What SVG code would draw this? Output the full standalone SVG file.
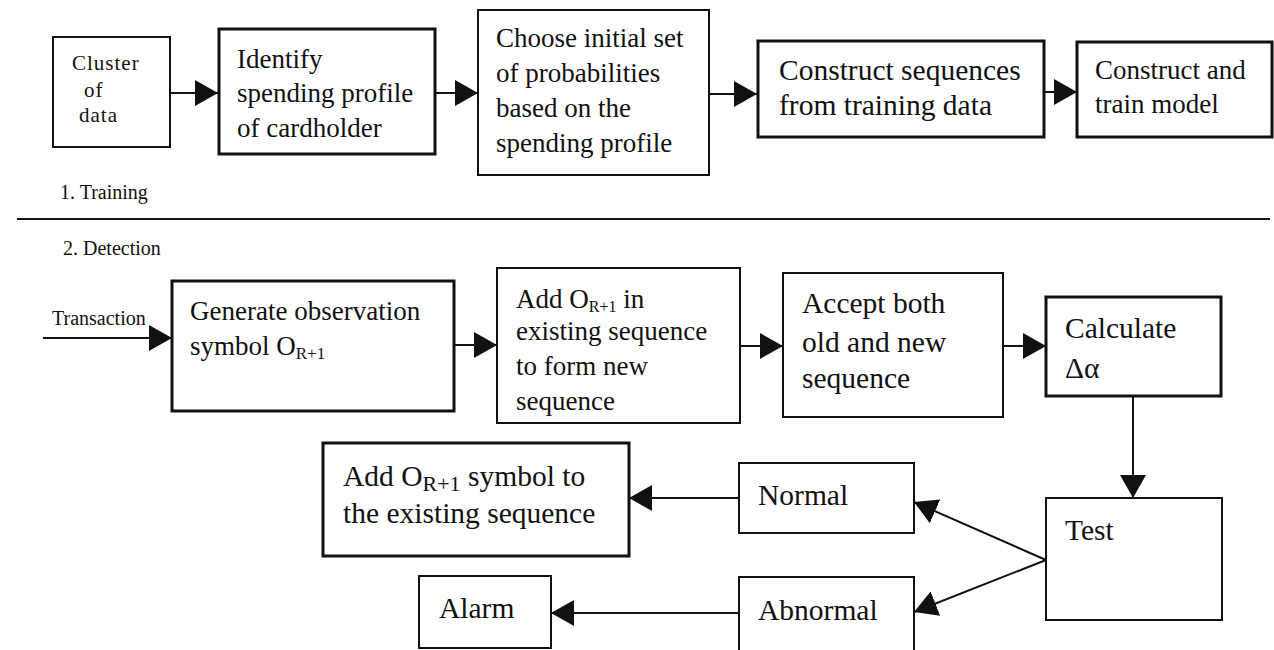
<svg xmlns="http://www.w3.org/2000/svg" width="1274" height="650" viewBox="0 0 1274 650">
<style>
text{font-family:"Liberation Serif","Times New Roman",serif;fill:#111}
.box{fill:#fff;stroke:#111;stroke-width:2}
.thick{stroke-width:3}
.c{stroke:#111;stroke-width:2;fill:none}
.f27{font-size:27px}
.f29{font-size:29.5px}
.f20{font-size:20px}
</style>
<defs>
<marker id="ah" markerUnits="userSpaceOnUse" markerWidth="24" markerHeight="26" viewBox="0 0 24 26" refX="23" refY="13" orient="auto">
<path d="M0,0 L23,13 L0,26 z" fill="#111"/>
</marker>
</defs>
<rect width="1274" height="650" fill="#fff"/>

<g id="connectors">
<line class="c" x1="171" y1="93" x2="218" y2="93" marker-end="url(#ah)"/>
<line class="c" x1="435" y1="93" x2="478" y2="93" marker-end="url(#ah)"/>
<line class="c" x1="709" y1="94" x2="757" y2="94" marker-end="url(#ah)"/>
<line class="c" x1="1044" y1="92" x2="1077" y2="92" marker-end="url(#ah)"/>
<line class="c" x1="43" y1="338" x2="172" y2="338" marker-end="url(#ah)"/>
<line class="c" x1="455" y1="345" x2="497" y2="345" marker-end="url(#ah)"/>
<line class="c" x1="740" y1="346" x2="783" y2="346" marker-end="url(#ah)"/>
<line class="c" x1="1003" y1="346" x2="1046" y2="346" marker-end="url(#ah)"/>
<line class="c" x1="1133" y1="396" x2="1133" y2="498" marker-end="url(#ah)"/>
<line class="c" x1="1046" y1="560" x2="914" y2="502" marker-end="url(#ah)"/>
<line class="c" x1="1046" y1="560" x2="914" y2="612" marker-end="url(#ah)"/>
<line class="c" x1="739" y1="498" x2="629" y2="498" marker-end="url(#ah)"/>
<line class="c" x1="739" y1="613" x2="551" y2="613" marker-end="url(#ah)"/>
</g>

<g id="separator">
<line x1="17" y1="219" x2="1270" y2="219" stroke="#111" stroke-width="2"/>
<text class="f20" x="60" y="199">1. Training</text>
<text class="f20" x="63" y="255">2. Detection</text>
<text class="f20" x="52" y="325">Transaction</text>
</g>

<g id="cluster">
<rect class="box" x="53" y="37" width="117" height="110"/>
<text style="font-size:21px;letter-spacing:1px" x="72" y="70">Cluster</text>
<text style="font-size:21px;letter-spacing:1px" x="84" y="97">of</text>
<text style="font-size:21px;letter-spacing:1px" x="79" y="122">data</text>
</g>

<g id="identify">
<rect class="box thick" x="219" y="29" width="216" height="125"/>
<text class="f27" x="237" y="68">Identify</text>
<text class="f27" x="237" y="102">spending profile</text>
<text class="f27" x="237" y="137">of cardholder</text>
</g>

<g id="choose">
<rect class="box" x="478" y="10" width="231" height="165"/>
<text class="f27" x="496" y="47">Choose initial set</text>
<text class="f27" x="496" y="82">of probabilities</text>
<text class="f27" x="496" y="117">based on the</text>
<text class="f27" x="496" y="152">spending profile</text>
</g>

<g id="construct-seq">
<rect class="box thick" x="758" y="41" width="286" height="96"/>
<text class="f29" x="779" y="80">Construct sequences</text>
<text class="f29" x="779" y="115">from training data</text>
</g>

<g id="construct-model">
<rect class="box thick" x="1077" y="42" width="195" height="95"/>
<text class="f27" x="1095" y="79">Construct and</text>
<text class="f27" x="1095" y="113">train model</text>
</g>

<g id="generate">
<rect class="box thick" x="172" y="281" width="282" height="130"/>
<text class="f27" x="190" y="320">Generate observation</text>
<text class="f27" x="190" y="355">symbol O<tspan style="font-size:17px" dy="4">R+1</tspan></text>
</g>

<g id="add-in">
<rect class="box" x="497" y="268" width="243" height="155"/>
<text class="f27" x="516" y="308">Add O<tspan style="font-size:16px" dy="4">R+1</tspan><tspan dy="-4"> in</tspan></text>
<text class="f27" x="516" y="340">existing sequence</text>
<text class="f27" x="516" y="375">to form new</text>
<text class="f27" x="516" y="410">sequence</text>
</g>

<g id="accept">
<rect class="box" x="783" y="273" width="220" height="144"/>
<text class="f29" x="802" y="313">Accept both</text>
<text class="f29" x="802" y="352">old and new</text>
<text class="f29" x="802" y="388">sequence</text>
</g>

<g id="calculate">
<rect class="box thick" x="1046" y="297" width="175" height="99"/>
<text class="f29" x="1065" y="338">Calculate</text>
<text class="f29" x="1065" y="378">Δα</text>
</g>

<g id="test">
<rect class="box" x="1046" y="498" width="176" height="122"/>
<text class="f29" x="1065" y="540">Test</text>
</g>

<g id="normal">
<rect class="box" x="739" y="463" width="175" height="70"/>
<text class="f29" x="758" y="505">Normal</text>
</g>

<g id="abnormal">
<rect class="box" x="739" y="577" width="175" height="83"/>
<text class="f29" x="758" y="620">Abnormal</text>
</g>

<g id="add-symbol">
<rect class="box thick" x="323" y="443" width="306" height="113"/>
<text class="f29" x="343" y="486">Add O<tspan style="font-size:22px" dy="5">R+1</tspan><tspan dy="-5"> symbol to</tspan></text>
<text class="f29" x="343" y="523">the existing sequence</text>
</g>

<g id="alarm">
<rect class="box" x="419" y="576" width="132" height="72"/>
<text class="f29" x="439" y="618">Alarm</text>
</g>
</svg>
